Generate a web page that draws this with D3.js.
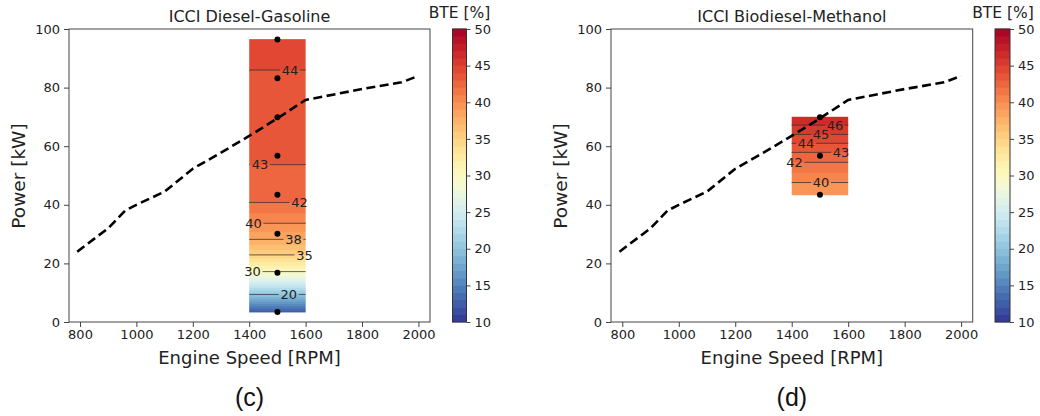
<!DOCTYPE html>
<html>
<head>
<meta charset="utf-8">
<script src="https://cdn.jsdelivr.net/npm/d3@7"></script>
<style>
  body { margin: 0; background: #fff; }
  svg { display: block; font-family: "DejaVu Sans", sans-serif; }
</style>
</head>
<body>
<svg id="chart" width="1040" height="416"></svg>
<script>
// full-load curve (dashed line)
const fullLoadRpm = [790, 900, 960, 1000, 1100, 1200, 1300, 1400, 1500, 1600, 1800, 1940, 2000];
const fullLoadKw  = [24, 32, 38, 40, 44.5, 52.3, 57.8, 63.5, 69.5, 75.8, 79.5, 81.8, 84];

// measured operating points at 1500 rpm
const dgPointsKw = [3.4, 16.8, 30.1, 43.4, 56.7, 69.9, 83.2, 96.4];
const bmPointsKw = [43.4, 56.7, 69.9];

// BTE field read along the load axis (power -> BTE)
const dgFieldKw  = [3.4, 9.4, 17.2, 22.9, 28.2, 33.7, 40.8, 53.7, 86.0, 96.4];
const dgFieldBte = [12.3, 20, 30, 35, 38, 40, 42, 43, 44, 44.9];
const bmFieldKw  = [43.4, 47.6, 54.5, 57.9, 61.0, 64.0, 67.2, 69.9];
const bmFieldBte = [39.2, 40, 42, 43, 44, 45, 46, 46.8];

// contour labels: level and where the label sits (rpm)
const dgLevels   = [20, 30, 35, 38, 40, 42, 43, 44];
const dgLabelRpm = [1540, 1412, 1596, 1557, 1415, 1578, 1438, 1545];
const bmLevels   = [40, 42, 43, 44, 45, 46];
const bmLabelRpm = [1504, 1410, 1575, 1451, 1504, 1553];

const xTicks = [800, 1000, 1200, 1400, 1600, 1800, 2000];
const yTicks = [0, 20, 40, 60, 80, 100];
const cbarTicks = [10, 15, 20, 25, 30, 35, 40, 45, 50];

const svg = d3.select('#chart');
const color = d3.scaleSequential(t => d3.interpolateRdYlBu(1 - t)).domain([10, 50]);

function drawPanel(o){
    let g = svg.append('g');
    let x = d3.scaleLinear().domain(o.xDomain).range([o.x0, o.x1]);
    let y = d3.scaleLinear().domain([0, 100]).range([o.y1, o.y0]);
    let kwAt = d3.scaleLinear().domain(o.fieldBte).range(o.fieldKw);

    // filled bands, 1% BTE each (like contourf)
    let bmin = d3.min(o.fieldBte), bmax = d3.max(o.fieldBte);
    let bands = d3.range(10, 50).filter(l => l + 1 > bmin && l < bmax);
    g.append('g').selectAll('rect').data(bands).enter()
        .append('rect')
        .attr('x', x(1400))
        .attr('width', x(1600) - x(1400))
        .attr('y', l => y(kwAt(Math.min(l + 1, bmax))) - 0.4)
        .attr('height', l => y(kwAt(Math.max(l, bmin))) - y(kwAt(Math.min(l + 1, bmax))) + 0.8)
        .attr('fill', l => color(l + 0.5));

    // contour lines with inline labels
    let cg = g.append('g');
    o.levels.forEach((lev, i) => {
        let yy = y(kwAt(lev));
        let lx = x(o.labelRpm[i]);
        let half = 10;
        let left = x(1400), right = x(1600);
        if(lx - half > left)
            cg.append('line').attr('x1', left).attr('x2', lx - half).attr('y1', yy).attr('y2', yy);
        if(lx + half < right)
            cg.append('line').attr('x1', lx + half).attr('x2', right).attr('y1', yy).attr('y2', yy);
        g.append('text').attr('x', lx).attr('y', yy).attr('dy', '0.36em')
            .attr('text-anchor', 'middle').attr('font-size', 13).attr('fill', '#222')
            .text(lev);
    });
    cg.selectAll('line').attr('stroke', '#333').attr('stroke-opacity', 0.75).attr('stroke-width', 1);

    // full load line
    let line = d3.line().x((d, i) => x(fullLoadRpm[i])).y(d => y(d));
    g.append('path').datum(fullLoadKw)
        .attr('d', line)
        .attr('fill', 'none')
        .attr('stroke', '#000')
        .attr('stroke-width', 2.6)
        .attr('stroke-dasharray', '9,4.5');

    // points
    g.append('g').selectAll('circle').data(o.points).enter()
        .append('circle')
        .attr('cx', x(1500))
        .attr('cy', d => y(d))
        .attr('r', 3)
        .attr('fill', '#000');

    // frame and axes
    g.append('rect').attr('x', o.x0).attr('y', o.y0)
        .attr('width', o.x1 - o.x0).attr('height', o.y1 - o.y0)
        .attr('fill', 'none').attr('stroke', '#444').attr('stroke-width', 1);

    let xa = g.append('g').attr('transform', `translate(0,${o.y1})`)
        .call(d3.axisBottom(x).tickValues(xTicks).tickFormat(d3.format('d')).tickSize(5).tickPadding(3));
    let ya = g.append('g').attr('transform', `translate(${o.x0},0)`)
        .call(d3.axisLeft(y).tickValues(yTicks).tickFormat(d3.format('d')).tickSize(5).tickPadding(4));
    [xa, ya].forEach(a => {
        a.select('.domain').remove();
        a.selectAll('line').attr('stroke', '#444');
        a.selectAll('text').attr('font-size', 13).attr('fill', '#222').attr('font-family', '"DejaVu Sans"');
    });

    g.append('text').attr('x', (o.x0 + o.x1) / 2).attr('y', 21.5)
        .attr('text-anchor', 'middle').attr('font-size', 16).attr('fill', '#222')
        .text(o.title);
    g.append('text').attr('x', (o.x0 + o.x1) / 2).attr('y', 364)
        .attr('text-anchor', 'middle').attr('font-size', 18).attr('fill', '#222')
        .text('Engine Speed [RPM]');
    g.append('text').attr('transform', `translate(${o.x0 - 50},176) rotate(-90)`)
        .attr('dy', '0.35em')
        .attr('text-anchor', 'middle').attr('font-size', 18.5).attr('fill', '#222')
        .text('Power [kW]');
    g.append('text').attr('x', (o.x0 + o.x1) / 2).attr('y', 406)
        .attr('text-anchor', 'middle').attr('font-size', 25).attr('fill', '#111')
        .attr('font-family', '"Liberation Sans", sans-serif')
        .text(o.tag);

    // colorbar
    let cy = d3.scaleLinear().domain([10, 50]).range([o.y1, o.y0]);
    g.append('g').selectAll('rect').data(d3.range(10, 50)).enter()
        .append('rect')
        .attr('x', o.cx0)
        .attr('width', o.cx1 - o.cx0)
        .attr('y', l => cy(l + 1) - 0.3)
        .attr('height', l => cy(l) - cy(l + 1) + 0.6)
        .attr('fill', l => color(l + 0.5));
    g.append('rect').attr('x', o.cx0).attr('y', o.y0)
        .attr('width', o.cx1 - o.cx0).attr('height', o.y1 - o.y0)
        .attr('fill', 'none').attr('stroke', '#333').attr('stroke-width', 1);
    let ca = g.append('g').attr('transform', `translate(${o.cx1},0)`)
        .call(d3.axisRight(cy).tickValues(cbarTicks).tickSize(4).tickPadding(4));
    ca.select('.domain').remove();
    ca.selectAll('line').attr('stroke', '#444');
    ca.selectAll('text').attr('font-size', 13).attr('fill', '#222').attr('font-family', '"DejaVu Sans"');
    g.append('text').attr('x', o.cx1 - 7).attr('y', 17.5)
        .attr('text-anchor', 'middle').attr('font-size', 15.5).attr('fill', '#222')
        .text('BTE [%]');
}

drawPanel({
    title: 'ICCI Diesel-Gasoline', tag: '(c)',
    x0: 69, x1: 430, y0: 29, y1: 322, xDomain: [761, 2041],
    cx0: 452.5, cx1: 466.5,
    points: dgPointsKw, fieldKw: dgFieldKw, fieldBte: dgFieldBte,
    levels: dgLevels, labelRpm: dgLabelRpm
});

drawPanel({
    title: 'ICCI Biodiesel-Methanol', tag: '(d)',
    x0: 611, x1: 972.7, y0: 29, y1: 322, xDomain: [760, 2041],
    cx0: 995, cx1: 1010,
    points: bmPointsKw, fieldKw: bmFieldKw, fieldBte: bmFieldBte,
    levels: bmLevels, labelRpm: bmLabelRpm
});
</script>
</body>
</html>
